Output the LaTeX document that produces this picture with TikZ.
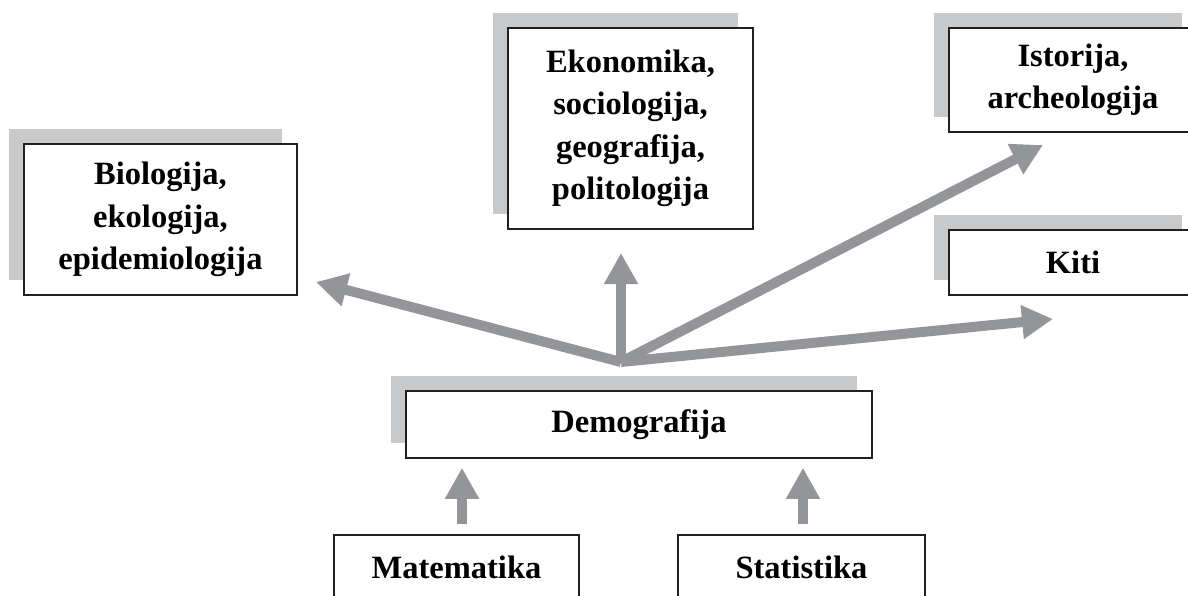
\documentclass[tikz,border=0pt]{standalone}
\usepackage{fontspec}
\setmainfont{Liberation Serif}
\usetikzlibrary{arrows.meta, shadows}

\definecolor{arrowgray}{HTML}{939598}
\definecolor{shadegray}{HTML}{C8C9CB}
\definecolor{edgeblack}{HTML}{231F20}

\begin{document}
\begin{tikzpicture}[x=1pt, y=-1pt,
		field/.style={draw=edgeblack, line width=1.5pt, fill=white, align=center, inner sep=0pt,
			font=\fontsize{32.5}{42.5}\selectfont\bfseries},
		shaded/.style={field, general shadow={fill=shadegray, shadow xshift=-15pt, shadow yshift=15pt}},
		flow/.style={draw=arrowgray, line width=10pt, -{Triangle[length=31pt, width=32pt]}}]
		\useasboundingbox (0,0) rectangle (1188,596);
		
		% fields around demography
		\node[shaded, minimum width=273pt, minimum height=151pt] (bio) at (160.5,219.5) {Biologija,\\ ekologija,\\ epidemiologija};
		\node[shaded, minimum width=245pt, minimum height=201pt] (eko) at (630.5,128.5) {Ekonomika,\\ sociologija,\\ geografija,\\ politologija};
		\node[shaded, minimum width=248pt, minimum height=104pt] (ist) at (1073,80) {Istorija,\\ archeologija};
		\node[shaded, minimum width=248pt, minimum height=65pt] (kiti) at (1073,262.5) {Kiti};
		\node[shaded, minimum width=466pt, minimum height=67pt] (demo) at (639,424.5) {Demografija};
		\node[field, minimum width=245pt, minimum height=64pt] (mat) at (456.5,567) {Matematika};
		\node[field, minimum width=247pt, minimum height=64pt] (stat) at (801.5,567) {Statistika};
		
		% arrows
		\coordinate (hub) at (621,362);
		\coordinate (bio-in) at (316,282);
		\coordinate (eko-in) at (621,253);
		\coordinate (ist-in) at (1043,145);
		\coordinate (kiti-in) at (1053,319);
		\foreach \t in {bio-in, eko-in, ist-in, kiti-in}
			\draw[flow] (hub) -- (\t);
		
		\foreach \n/\dx in {mat/5.5, stat/1.5}
			\draw[flow, shorten <=10pt, shorten >=9pt] ([xshift=\dx pt]\n.north) -- ([xshift=\dx pt]\n.north |- demo.south);
	\end{tikzpicture}
\end{document}
